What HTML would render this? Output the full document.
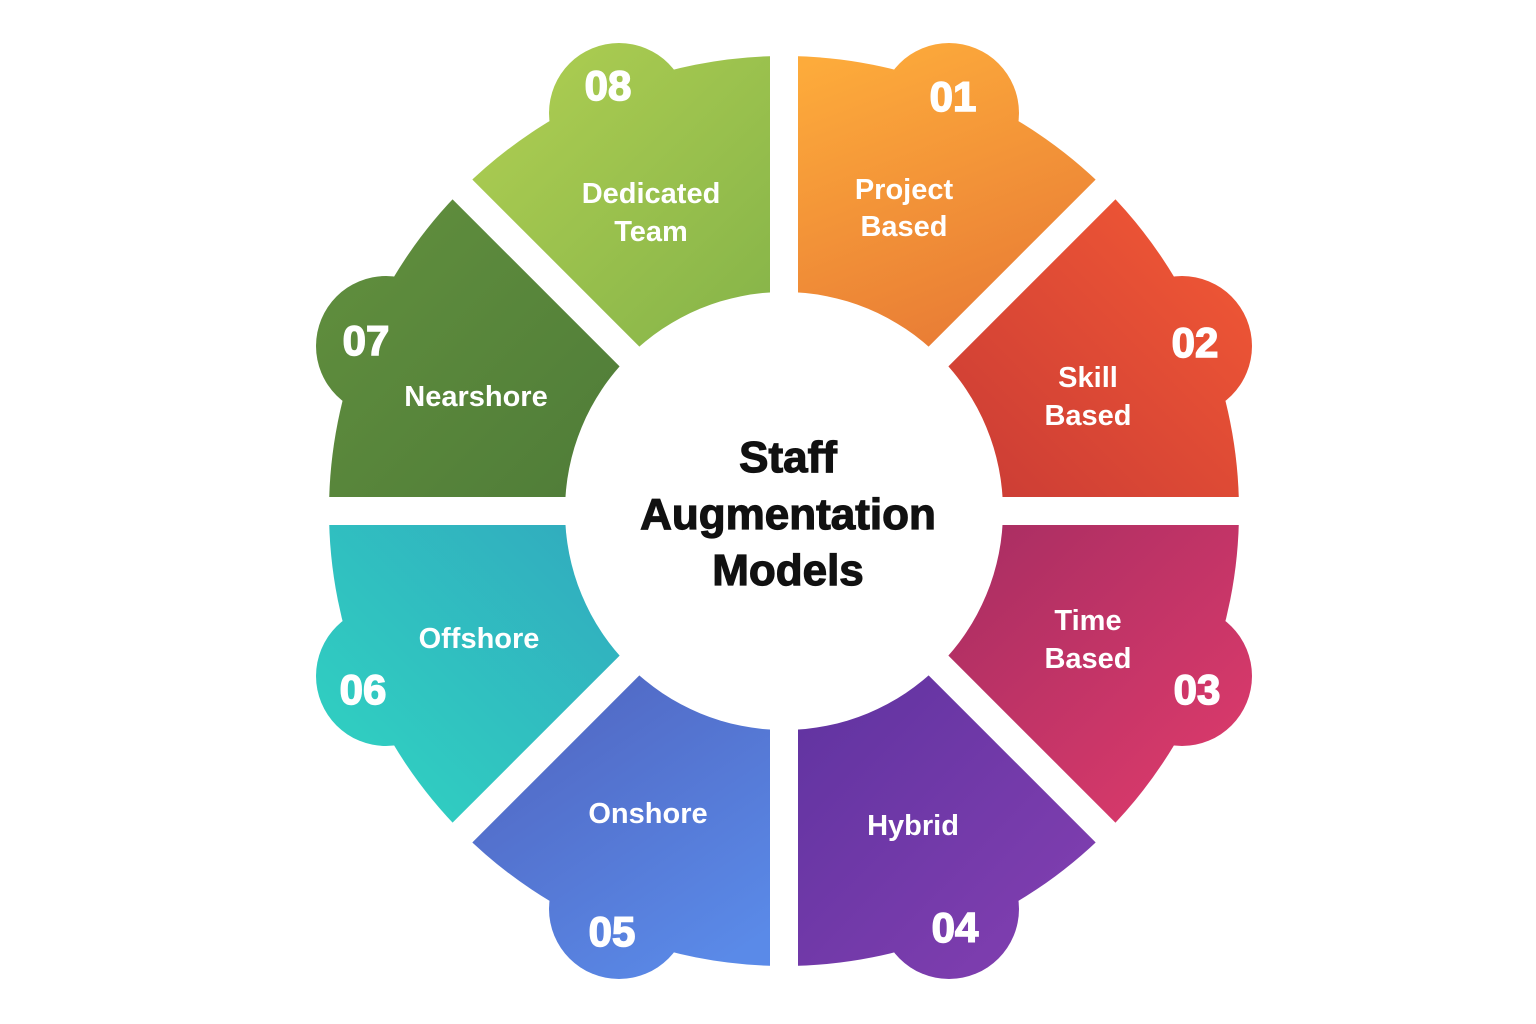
<!DOCTYPE html>
<html><head><meta charset="utf-8"><style>
html,body{margin:0;padding:0;background:#fff;}
svg{display:block}
.lbl{font-family:"Liberation Sans",sans-serif;font-weight:bold;font-size:29px;fill:#fff;text-anchor:middle}
.num{font-family:"Liberation Sans",sans-serif;font-weight:900;font-size:42px;fill:#fff;text-anchor:middle;stroke:#fff;stroke-width:1.5}
.ttl{font-family:"Liberation Sans",sans-serif;font-weight:900;font-size:44px;fill:#111;text-anchor:middle;stroke:#111;stroke-width:1.2}
</style></head><body>
<svg width="1536" height="1024" viewBox="0 0 1536 1024" xmlns="http://www.w3.org/2000/svg">
<defs>
<linearGradient id="g1" gradientUnits="userSpaceOnUse" x1="820" y1="60" x2="930" y2="350"><stop offset="0" stop-color="#fdab3b"/><stop offset="1" stop-color="#e97d35"/></linearGradient>
<linearGradient id="g2" gradientUnits="userSpaceOnUse" x1="950" y1="500" x2="1250" y2="200"><stop offset="0" stop-color="#c93b35"/><stop offset="1" stop-color="#f45a35"/></linearGradient>
<linearGradient id="g3" gradientUnits="userSpaceOnUse" x1="950" y1="520" x2="1250" y2="830"><stop offset="0" stop-color="#a62d62"/><stop offset="1" stop-color="#e23c6c"/></linearGradient>
<linearGradient id="g4" gradientUnits="userSpaceOnUse" x1="790" y1="680" x2="1100" y2="980"><stop offset="0" stop-color="#5f33a0"/><stop offset="1" stop-color="#8540b2"/></linearGradient>
<linearGradient id="g5" gradientUnits="userSpaceOnUse" x1="500" y1="680" x2="700" y2="980"><stop offset="0" stop-color="#5064bf"/><stop offset="1" stop-color="#5a8ae8"/></linearGradient>
<linearGradient id="g6" gradientUnits="userSpaceOnUse" x1="620" y1="520" x2="320" y2="830"><stop offset="0" stop-color="#31a9be"/><stop offset="1" stop-color="#30d6c2"/></linearGradient>
<linearGradient id="g7" gradientUnits="userSpaceOnUse" x1="320" y1="200" x2="620" y2="500"><stop offset="0" stop-color="#62903e"/><stop offset="1" stop-color="#4f7c38"/></linearGradient>
<linearGradient id="g8" gradientUnits="userSpaceOnUse" x1="480" y1="50" x2="760" y2="340"><stop offset="0" stop-color="#b0cf52"/><stop offset="1" stop-color="#86b449"/></linearGradient>
</defs>
<g fill="url(#g1)"><path d="M784 511 L784 56 A455 455 0 0 1 1105.7 189.3 Z"/><circle cx="949" cy="113" r="70"/></g>
<g fill="url(#g2)"><path d="M784 511 L1105.7 189.3 A455 455 0 0 1 1239 511 Z"/><circle cx="1182" cy="346" r="70"/></g>
<g fill="url(#g3)"><path d="M784 511 L1239 511 A455 455 0 0 1 1105.7 832.7 Z"/><circle cx="1182" cy="676" r="70"/></g>
<g fill="url(#g4)"><path d="M784 511 L1105.7 832.7 A455 455 0 0 1 784 966 Z"/><circle cx="949" cy="909" r="70"/></g>
<g fill="url(#g5)"><path d="M784 511 L784 966 A455 455 0 0 1 462.3 832.7 Z"/><circle cx="619" cy="909" r="70"/></g>
<g fill="url(#g6)"><path d="M784 511 L462.3 832.7 A455 455 0 0 1 329 511 Z"/><circle cx="386" cy="676" r="70"/></g>
<g fill="url(#g7)"><path d="M784 511 L329 511 A455 455 0 0 1 462.3 189.3 Z"/><circle cx="386" cy="346" r="70"/></g>
<g fill="url(#g8)"><path d="M784 511 L462.3 189.3 A455 455 0 0 1 784 56 Z"/><circle cx="619" cy="113" r="70"/></g>
<g stroke="#fff" stroke-width="28">
<line x1="784" y1="0" x2="784" y2="1024"/>
<line x1="200" y1="511" x2="1370" y2="511"/>
<line x1="234" y1="-39" x2="1334" y2="1061"/>
<line x1="1334" y1="-39" x2="234" y2="1061"/>
</g>
<circle cx="784" cy="511" r="219" fill="#fff"/>
<text class="ttl" x="788" y="472">Staff</text>
<text class="ttl" x="788" y="529">Augmentation</text>
<text class="ttl" x="788" y="585">Models</text>
<text class="num" x="953" y="111">01</text>
<text class="num" x="1195" y="357">02</text>
<text class="num" x="1197" y="704">03</text>
<text class="num" x="955" y="942">04</text>
<text class="num" x="612" y="946">05</text>
<text class="num" x="363" y="704">06</text>
<text class="num" x="366" y="355">07</text>
<text class="num" x="608" y="100">08</text>
<text class="lbl" x="904" y="199">Project</text>
<text class="lbl" x="904" y="236">Based</text>
<text class="lbl" x="1088" y="387">Skill</text>
<text class="lbl" x="1088" y="425">Based</text>
<text class="lbl" x="1088" y="630">Time</text>
<text class="lbl" x="1088" y="668">Based</text>
<text class="lbl" x="913" y="835">Hybrid</text>
<text class="lbl" x="648" y="823">Onshore</text>
<text class="lbl" x="479" y="648">Offshore</text>
<text class="lbl" x="476" y="406">Nearshore</text>
<text class="lbl" x="651" y="203">Dedicated</text>
<text class="lbl" x="651" y="241">Team</text>
</svg>
</body></html>
